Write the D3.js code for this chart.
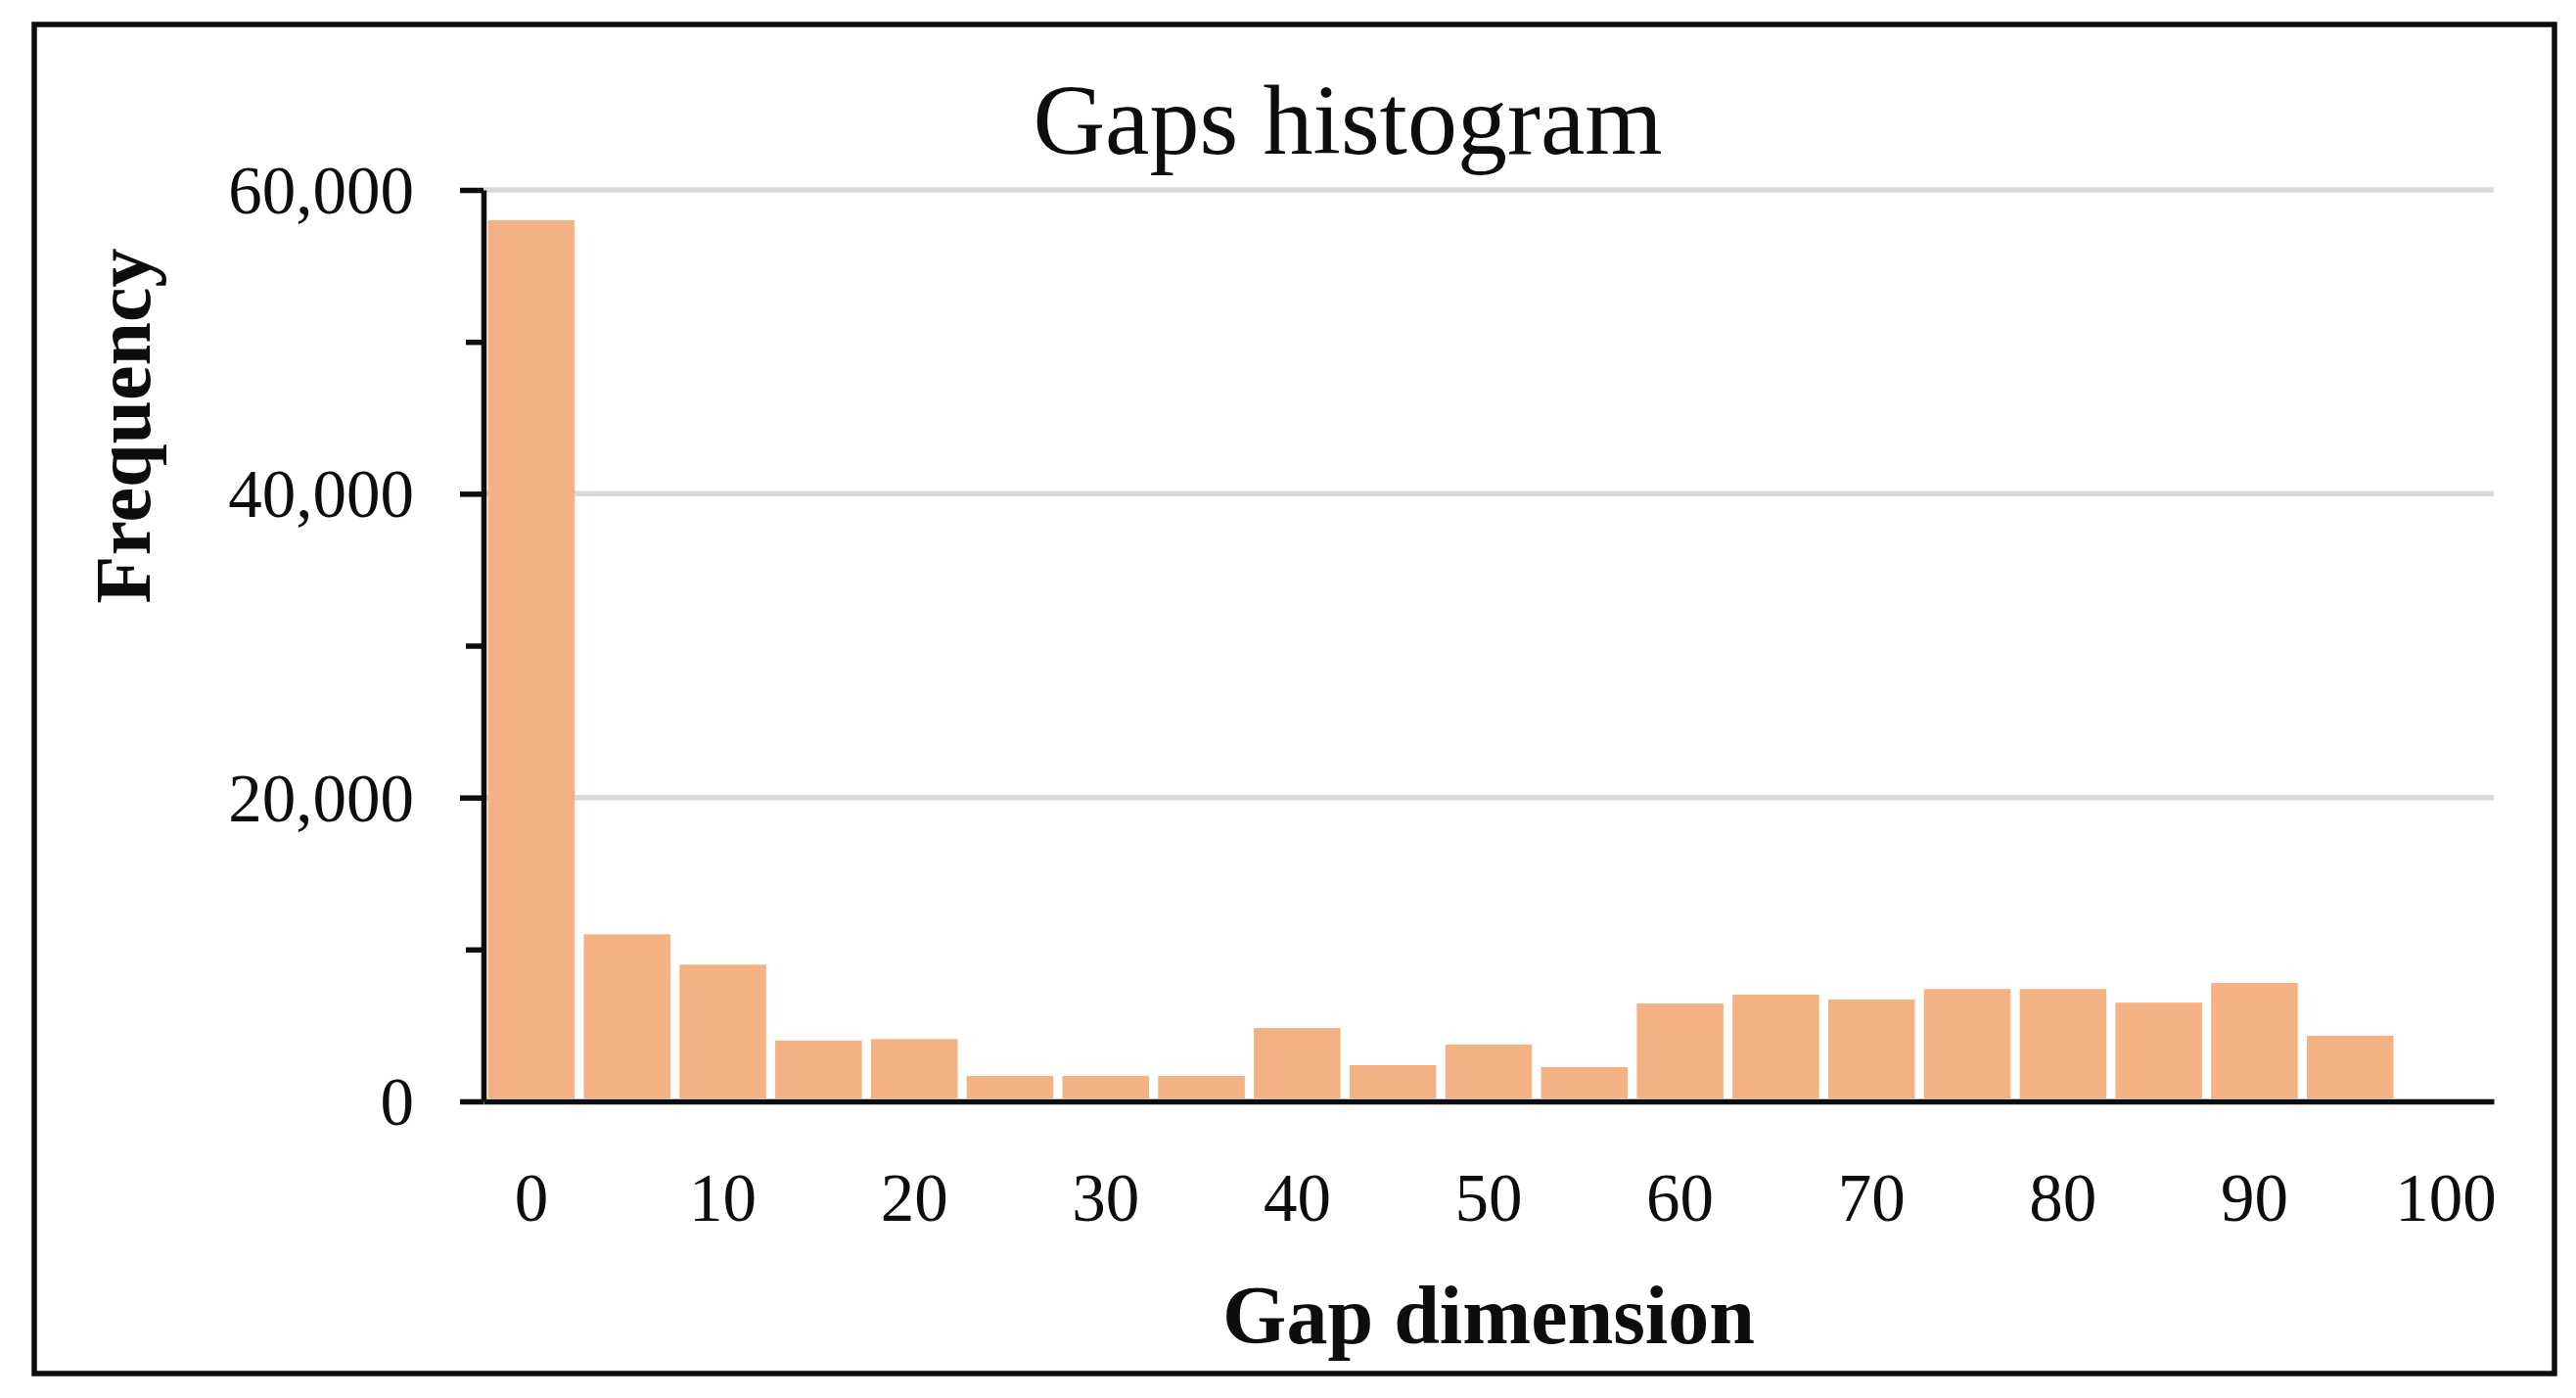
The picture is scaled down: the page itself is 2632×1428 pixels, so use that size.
<!DOCTYPE html>
<html>
<head>
<meta charset="utf-8">
<script src="https://cdn.jsdelivr.net/npm/d3@7"></script>
<style>
  html, body { margin: 0; padding: 0; background: #ffffff; }
  svg { display: block; }
</style>
</head>
<body>
<script>
// ---- Data ----
const categories = ["0","5","10","15","20","25","30","35","40","45","50","55","60","65","70","75","80","85","90","95","100"];
const frequencies = [58000, 11000, 9000, 4000, 4100, 1680, 1680, 1680, 4830, 2380, 3740, 2260, 6440, 7020, 6700, 7400, 7400, 6500, 7800, 4320, 0];
const xTickLabels = ["0","10","20","30","40","50","60","70","80","90","100"];
const yMajorTicks = [0, 20000, 40000, 60000];
const yMinorTicks = [10000, 30000, 50000];
const titleText = "Gaps histogram";
const xTitle = "Gap dimension";
const yTitle = "Frequency";

// ---- Layout ----
const W = 2632, H = 1428;
const plot = { left: 494, right: 2548, top: 194, bottom: 1125 };
const ink = "#0d0d0d";
const serif = "'Liberation Serif', 'Times New Roman', serif";
const lw = 5.5;

const svg = d3.select("body").append("svg").attr("width", W).attr("height", H);
svg.append("rect").attr("width", W).attr("height", H).attr("fill", "#fff");

// outer border
svg.append("rect")
  .attr("x", 35).attr("y", 25).attr("width", 2610 - 35).attr("height", 1403 - 25)
  .attr("fill", "none").attr("stroke", ink).attr("stroke-width", lw);

const x = d3.scaleBand().domain(categories).range([plot.left, plot.right])
  .paddingInner(0.095).paddingOuter(0.0475);
const y = d3.scaleLinear().domain([0, 60000]).range([plot.bottom, plot.top]);

// gridlines
svg.append("g").selectAll("line").data(yMajorTicks.filter(d => d > 0)).join("line")
  .attr("x1", plot.left).attr("x2", plot.right)
  .attr("y1", d => y(d)).attr("y2", d => y(d))
  .attr("stroke", "#d9d9d9").attr("stroke-width", lw);

// bars
svg.append("g").selectAll("rect").data(categories).join("rect")
  .attr("x", d => x(d))
  .attr("width", x.bandwidth())
  .attr("y", (d, i) => y(frequencies[i]))
  .attr("height", (d, i) => Math.max(0, y(0) - y(frequencies[i]) - 3))
  .attr("fill", "#f4b183");

// y axis (major)
const yAxis = svg.append("g").attr("transform", `translate(${plot.left},0)`)
  .call(d3.axisLeft(y).tickValues(yMajorTicks).tickFormat(d3.format(","))
    .tickSize(24).tickSizeOuter(0).tickPadding(47));
yAxis.select(".domain").attr("stroke", ink).attr("stroke-width", lw);
yAxis.selectAll(".tick line").attr("stroke", ink).attr("stroke-width", lw);
yAxis.selectAll(".tick text")
  .attr("fill", ink).attr("font-family", serif).attr("font-size", 69)
  .attr("dy", "0.34em");

// y axis (minor ticks)
const yMinor = svg.append("g").attr("transform", `translate(${plot.left},0)`)
  .call(d3.axisLeft(y).tickValues(yMinorTicks).tickFormat("").tickSize(18).tickSizeOuter(0));
yMinor.select(".domain").remove();
yMinor.selectAll(".tick line").attr("stroke", ink).attr("stroke-width", lw);

// x axis
const xAxis = svg.append("g").attr("transform", `translate(0,${plot.bottom})`)
  .call(d3.axisBottom(x).tickValues(xTickLabels).tickSize(0).tickSizeOuter(0));
xAxis.select(".domain").attr("stroke", ink).attr("stroke-width", lw);
xAxis.selectAll(".tick text")
  .attr("fill", ink).attr("font-family", serif).attr("font-size", 69)
  .attr("y", 122).attr("dy", 0);

// title
svg.append("text").attr("x", 1377).attr("y", 157).attr("text-anchor", "middle")
  .attr("font-family", serif).attr("font-size", 102).attr("fill", ink).text(titleText);

// x title
svg.append("text").attr("x", (plot.left + plot.right) / 2).attr("y", 1372).attr("text-anchor", "middle")
  .attr("font-family", serif).attr("font-weight", "bold").attr("font-size", 84).attr("fill", ink).text(xTitle);

// y title
svg.append("text").attr("transform", "translate(153,435) rotate(-90)").attr("text-anchor", "middle")
  .attr("font-family", serif).attr("font-weight", "bold").attr("font-size", 80).attr("fill", ink).text(yTitle);
</script>
</body>
</html>
